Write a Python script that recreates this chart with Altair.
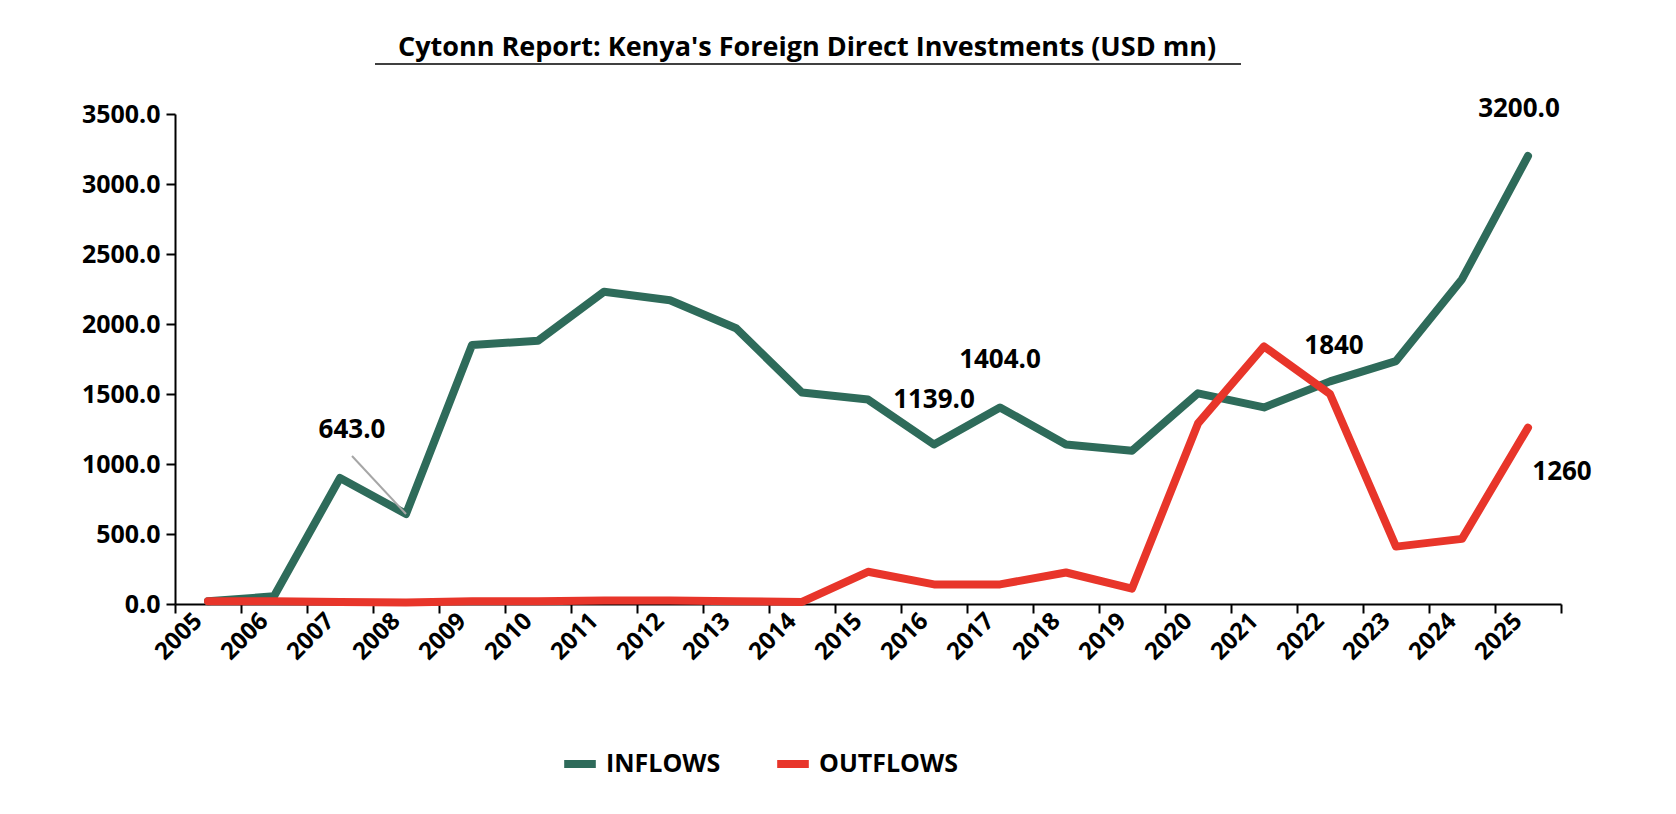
import altair as alt
import pandas as pd

years = [str(y) for y in range(2005, 2026)]
inflows = [20, 55, 900, 643, 1850, 1880, 2230, 2170, 1970, 1510, 1460, 1139, 1404, 1140, 1095, 1505, 1404, 1590, 1735, 2320, 3200]
outflows = [20, 20, 15, 10, 20, 20, 25, 25, 20, 15, 230, 140, 140, 225, 110, 1290, 1840, 1500, 410, 465, 1260]

GREEN = "#2E6B5A"
RED = "#E8352A"
FONT = "Open Sans"

rows = []
for y, a, b in zip(years, inflows, outflows):
    rows.append({"year": y, "value": a, "series": "INFLOWS"})
    rows.append({"year": y, "value": b, "series": "OUTFLOWS"})
df = pd.DataFrame(rows)

x = alt.X("year:N", sort=years, title=None,
          scale=alt.Scale(paddingInner=0, paddingOuter=0),
          axis=alt.Axis(tickBand="extent", labelAngle=-45, labelAlign="right", labelBaseline="middle",
                        labelFont=FONT, labelFontWeight="bold", labelFontSize=24, labelColor="black",
                        domainColor="black", domainWidth=2, tickColor="black", tickWidth=2, tickSize=9,
                        labelPadding=4, labelOffset=-10))
y = alt.Y("value:Q", title=None, scale=alt.Scale(domain=[0, 3500]),
          axis=alt.Axis(values=list(range(0, 3501, 500)), format=".1f", grid=False,
                        labelFont=FONT, labelFontWeight="bold", labelFontSize=25, labelColor="black",
                        domainColor="black", domainWidth=2, tickColor="black", tickWidth=2, tickSize=9,
                        labelPadding=6))

lines = alt.Chart(df).mark_line(strokeWidth=8, strokeCap="round", strokeJoin="round").encode(
    x=x, y=y,
    color=alt.Color("series:N", scale=alt.Scale(domain=["INFLOWS", "OUTFLOWS"], range=[GREEN, RED]),
                    legend=alt.Legend(title=None, orient="none", legendX=385, legendY=630, direction="horizontal",
                                      symbolType="stroke", symbolSize=1000, symbolStrokeWidth=8,
                                      labelFont=FONT, labelFontWeight="bold", labelFontSize=25,
                                      labelColor="black", columnPadding=40, labelOffset=6))
)

lab = pd.DataFrame({
    "year": ["2008", "2016", "2017", "2025", "2021", "2025"],
    "value": [643, 1139, 1404, 3200, 1840, 1260],
    "text": ["643.0", "1139.0", "1404.0", "3200.0", "1840", "1260"],
    "dx": [-54, 0, 0, -9, 70, 34],
    "dy": [-84, -45, -47, -47, 0, 44],
})
texts = []
for i, r in lab.iterrows():
    texts.append(alt.Chart(lab[lab.index == i]).mark_text(
        font=FONT, fontWeight="bold", fontSize=26, color="black", dx=int(r.dx), dy=int(r.dy)
    ).encode(x=alt.X("year:N", sort=years), y="value:Q", text="text:N"))

leader = alt.Chart(pd.DataFrame({"a": ["2008"], "b": ["2007"], "v": [643], "v2": [1057]})).mark_rule(
    color="#A6A6A6", strokeWidth=2, x2Offset=12
).encode(x=alt.X("a:N", sort=years), x2="b:N", y="v:Q", y2="v2:Q")

title = alt.Chart(pd.DataFrame({"t": ["Cytonn Report: Kenya's Foreign Direct Investments (USD mn)"]})).mark_text(
    font=FONT, fontWeight="bold", fontSize=27, color="black"
).encode(x=alt.value(632), y=alt.value(-66), text="t:N")
underline = alt.Chart(pd.DataFrame({"a": [1]})).mark_rule(color="black", strokeWidth=1.5).encode(
    x=alt.value(200), x2=alt.value(1066), y=alt.value(-50))

chart = alt.layer(lines, leader, *texts, title, underline).properties(
    width=1386, height=490,
    padding={"left": 167, "top": 106, "right": 100, "bottom": 180},
    autosize=alt.AutoSizeParams(type="none"),
).configure_view(stroke=None)

chart.save("out.html", embed_options={"renderer": "svg", "actions": False})
